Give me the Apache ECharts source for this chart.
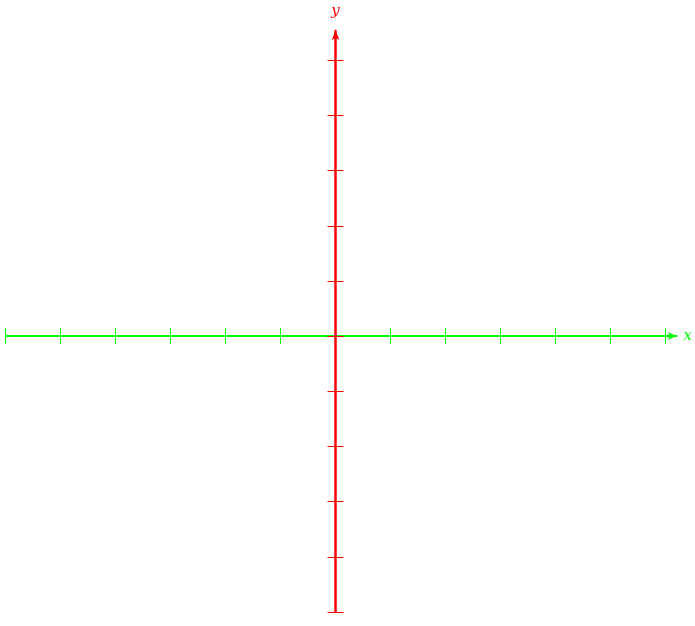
<!DOCTYPE html>
<html>
<head>
<meta charset="utf-8">
<script src="https://cdn.jsdelivr.net/npm/echarts@6/dist/echarts.min.js"></script>
<style>html,body{margin:0;padding:0;background:#fff}#c{width:695px;height:626px}</style>
</head>
<body>
<div id="c"></div>
<script>
const xTicks = [-6, -5, -4, -3, -2, -1, 0, 1, 2, 3, 4, 5, 6];
const yTicks = [-5, -4, -3, -2, -1, 0, 1, 2, 3, 4, 5];
const xRange = [-6, 6.2];
const yRange = [-5, 5.53];
const xName = 'x';
const yName = 'y';

const GREEN = '#00ff00';
const RED = '#ff0000';
const nameFont = { fontFamily: 'DejaVu Serif', fontStyle: 'italic', fontSize: 15 };

function xAx(pos, showLine) {
  return {
    type: 'value', position: pos, min: xRange[0], max: xRange[1], z: 1,
    name: showLine ? xName : '', nameLocation: 'end', nameGap: 7,
    nameTextStyle: Object.assign({ color: GREEN, verticalAlign: 'middle' }, nameFont),
    axisLine: { show: showLine, onZero: true, lineStyle: { color: GREEN, width: 2 }, symbol: ['none', 'arrow'], symbolSize: [6, 9] },
    axisTick: { show: true, length: 8, customValues: xTicks, lineStyle: { color: GREEN, width: 1 } },
    axisLabel: { show: false },
    splitLine: { show: false }
  };
}
function yAx(pos, showLine) {
  return {
    type: 'value', position: pos, min: yRange[0], max: yRange[1], z: 5,
    name: showLine ? yName : '', nameLocation: 'end', nameGap: 12,
    nameTextStyle: Object.assign({ color: RED, align: 'center' }, nameFont),
    axisLine: { show: showLine, onZero: true, lineStyle: { color: RED, width: 2.5 }, symbol: ['none', 'arrow'], symbolSize: [6, 9] },
    axisTick: { show: true, length: 8, customValues: yTicks, lineStyle: { color: RED, width: 1 } },
    axisLabel: { show: false },
    splitLine: { show: false }
  };
}

const chart = echarts.init(document.getElementById('c'), null, { renderer: 'canvas' });
chart.setOption({
  animation: false,
  backgroundColor: '#ffffff',
  grid: { left: 5.6, top: 31, width: (xRange[1] - xRange[0]) * 55.17, height: (yRange[1] - yRange[0]) * 55.17, containLabel: false },
  xAxis: [xAx('bottom', true), xAx('top', false)],
  yAxis: [yAx('left', true), yAx('right', false)],
  series: [{ type: 'scatter', data: [], xAxisIndex: 0, yAxisIndex: 0 }]
});
</script>
</body>
</html>
